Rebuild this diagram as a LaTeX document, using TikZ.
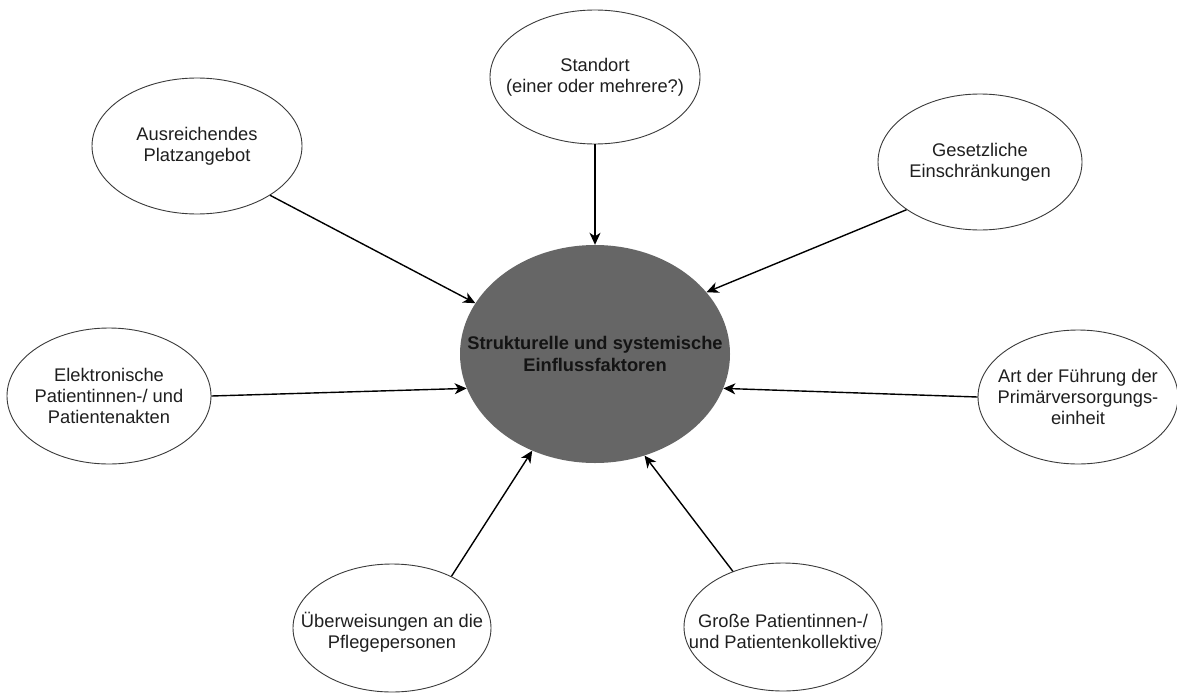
\documentclass[tikz,border=0pt]{standalone}
\usepackage{fontspec}
\setmainfont{Liberation Sans}
\usetikzlibrary{shapes.geometric,arrows.meta}
\definecolor{centfill}{HTML}{666666}
\definecolor{edgegray}{HTML}{3A3A3A}
\begin{document}
\begin{tikzpicture}[x=1pt,y=-1pt,
  outer/.style={ellipse,draw=edgegray,line width=0.9pt,fill=white,inner sep=0pt},
  txt/.style={align=center,font=\fontsize{18.3}{21}\selectfont,text=black!88},
  btxt/.style={align=center,font=\fontsize{18.3}{22}\selectfont\bfseries,text=black!92},
  arr/.style={-{Stealth[length=12pt,width=11pt,inset=3.5pt]},line width=1.4pt,black}]
\useasboundingbox (0,0) rectangle (1177,693);
\fill[white] (0,0) rectangle (1177,693);

\node[ellipse,fill=centfill,inner sep=0pt,minimum width=270pt,minimum height=218pt,
  label={[btxt]center:{Strukturelle und systemische\\Einflussfaktoren}}] (center) at (595,354) {};

\node[outer,minimum width=210pt,minimum height=134pt,
  label={[txt]center:{Standort\\(einer oder mehrere?)}}] (standort) at (595,77) {};
\node[outer,minimum width=210pt,minimum height=136pt,
  label={[txt]center:{Ausreichendes\\Platzangebot}}] (platz) at (197,146) {};
\node[outer,minimum width=204pt,minimum height=136pt,
  label={[txt]center:{Gesetzliche\\Einschränkungen}}] (gesetz) at (980,162) {};
\node[outer,minimum width=204pt,minimum height=136pt,
  label={[txt]center:{Elektronische\\Patientinnen-/ und\\Patientenakten}}] (elektro) at (109,396) {};
\node[outer,minimum width=200pt,minimum height=134pt,
  label={[txt]center:{Art der Führung der\\Primärversorgungs-\\einheit}}] (art) at (1078,397) {};
\node[outer,minimum width=198pt,minimum height=128pt,
  label={[txt,yshift=-4pt]center:{Überweisungen an die\\Pflegepersonen}}] (ueber) at (392,628) {};
\node[outer,minimum width=198pt,minimum height=128pt,
  label={[txt,yshift=-4pt]center:{Große Patientinnen-/\\und Patientenkollektive}}] (grosse) at (783,627) {};

\draw[arr] (platz.326) -- (center.157);
\draw[arr] (standort.270) -- (center.90);
\draw[arr] (gesetz.213) -- (center.29);
\draw[arr] (elektro.0) -- (center.195);
\draw[arr] (art.180) -- (center.345);
\draw[arr] (ueber.41) -- (center.237);
\draw[arr] (grosse.132) -- (center.296);
\end{tikzpicture}
\end{document}
